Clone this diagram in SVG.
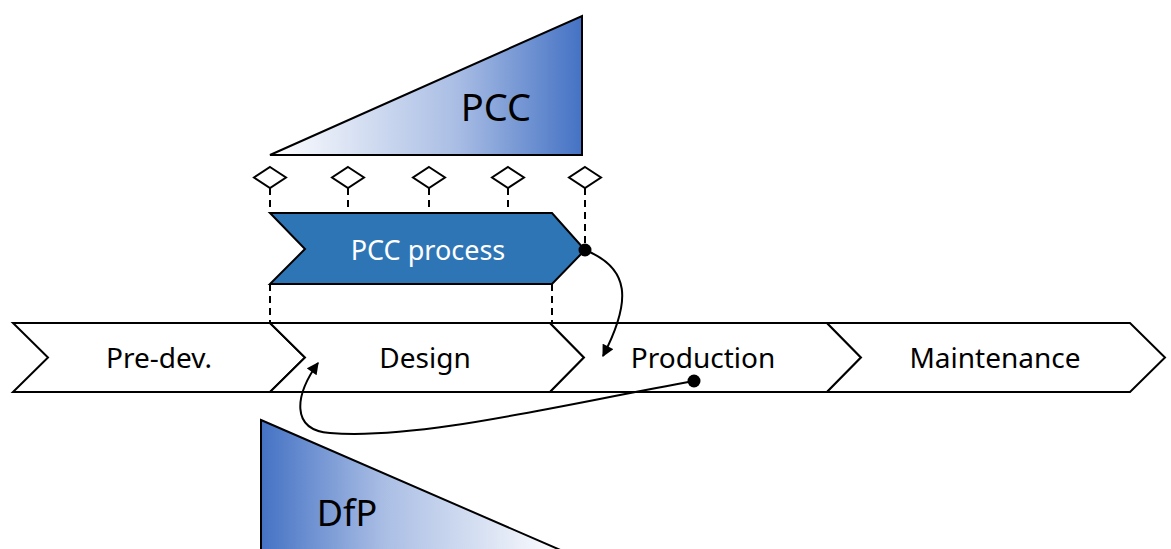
<svg xmlns="http://www.w3.org/2000/svg" width="1171" height="549" viewBox="0 0 1171 549">
  <style>
    .lbl { font-family: "Noto Sans", "Open Sans", sans-serif; fill: #000; text-anchor: middle; dominant-baseline: central; }
    .phase { fill: #fff; stroke: #000; stroke-width: 2; stroke-linejoin: miter; }
    .dash { stroke: #000; stroke-width: 2; stroke-dasharray: 7 5; fill: none; }
    .gate { fill: #fff; stroke: #000; stroke-width: 2; }
    .conn { fill: none; stroke: #000; stroke-width: 2; }
  </style>
  <defs>
    <linearGradient id="gradUp" x1="0" y1="0" x2="1" y2="0">
      <stop offset="0" stop-color="#ffffff"/>
      <stop offset="0.6" stop-color="#a9bde4"/>
      <stop offset="1" stop-color="#4472c4"/>
    </linearGradient>
    <linearGradient id="gradDown" x1="0" y1="0" x2="1" y2="0">
      <stop offset="0" stop-color="#4472c4"/>
      <stop offset="0.4" stop-color="#a9bde4"/>
      <stop offset="1" stop-color="#ffffff"/>
    </linearGradient>
    <marker id="arrow" viewBox="0 0 10 10" refX="9" refY="5" markerWidth="13" markerHeight="12" markerUnits="userSpaceOnUse" orient="auto">
      <path d="M0,0 L10,5 L0,10 Z" fill="#000"/>
    </marker>
  </defs>

  <!-- PCC effort wedge -->
  <g id="pcc-wedge">
    <path d="M270,155 L582,16 L582,155 Z" fill="url(#gradUp)" stroke="#000" stroke-width="2"/>
    <text class="lbl" x="496" y="106" font-size="38">PCC</text>
  </g>

  <!-- gate milestones -->
  <g id="gates">
    <path class="gate" d="M270,167 L286,177.5 L270,188 L254,177.5 Z"/>
    <path class="gate" d="M348,167 L364,177.5 L348,188 L332,177.5 Z"/>
    <path class="gate" d="M429,167 L445,177.5 L429,188 L413,177.5 Z"/>
    <path class="gate" d="M508,167 L524,177.5 L508,188 L492,177.5 Z"/>
    <path class="gate" d="M585,167 L601,177.5 L585,188 L569,177.5 Z"/>
  </g>

  <!-- PCC process chevron -->
  <g id="pcc-process">
    <path d="M270,213 L552,213 L585,250 L552,284 L270,284 L305,249 Z" fill="#2e75b6" stroke="#000" stroke-width="2"/>
    <text class="lbl" x="428" y="249" font-size="27" style="fill:#fff">PCC process</text>
  </g>

  <!-- lifecycle phases -->
  <g id="phase-predev">
    <path class="phase" d="M13,323 L270,323 L305,357.5 L270,392 L13,392 L48,357.5 Z"/>
    <text class="lbl" x="159" y="357" font-size="28">Pre-dev.</text>
  </g>
  <g id="phase-design">
    <path class="phase" d="M270,323 L550,323 L584,357.5 L550,392 L270,392 L305,357.5 Z"/>
    <text class="lbl" x="425" y="357" font-size="28">Design</text>
  </g>
  <g id="phase-production">
    <path class="phase" d="M550,323 L827,323 L861,357.5 L827,392 L550,392 L584,357.5 Z"/>
    <text class="lbl" x="703" y="357" font-size="28">Production</text>
  </g>
  <g id="phase-maintenance">
    <path class="phase" d="M827,323 L1130,323 L1165,357.5 L1130,392 L827,392 L861,357.5 Z"/>
    <text class="lbl" x="995" y="357" font-size="28">Maintenance</text>
  </g>

  <!-- DfP effort wedge -->
  <g id="dfp-wedge">
    <path d="M261,420 L565,552 L261,552 Z" fill="url(#gradDown)" stroke="#000" stroke-width="2"/>
    <text class="lbl" x="347" y="512" font-size="36">DfP</text>
  </g>

  <!-- connectors -->
  <g id="connectors">
    <line class="dash" x1="270" y1="188" x2="270" y2="213"/>
    <line class="dash" x1="348" y1="188" x2="348" y2="213"/>
    <line class="dash" x1="429" y1="188" x2="429" y2="213"/>
    <line class="dash" x1="508" y1="188" x2="508" y2="213"/>
    <line class="dash" x1="585" y1="188" x2="585" y2="250"/>
    <line class="dash" x1="270" y1="284" x2="270" y2="323"/>
    <line class="dash" x1="552" y1="284" x2="552" y2="323"/>
    <path class="conn" d="M585,250 C630,268 632,300 603,356" marker-end="url(#arrow)"/>
    <circle cx="585" cy="250" r="6.5" fill="#000"/>
    <path class="conn" d="M694,381 C560,405 420,440 330,433 C290,430 295,395 318,363" marker-end="url(#arrow)"/>
    <circle cx="694" cy="381" r="6.5" fill="#000"/>
  </g>
</svg>
